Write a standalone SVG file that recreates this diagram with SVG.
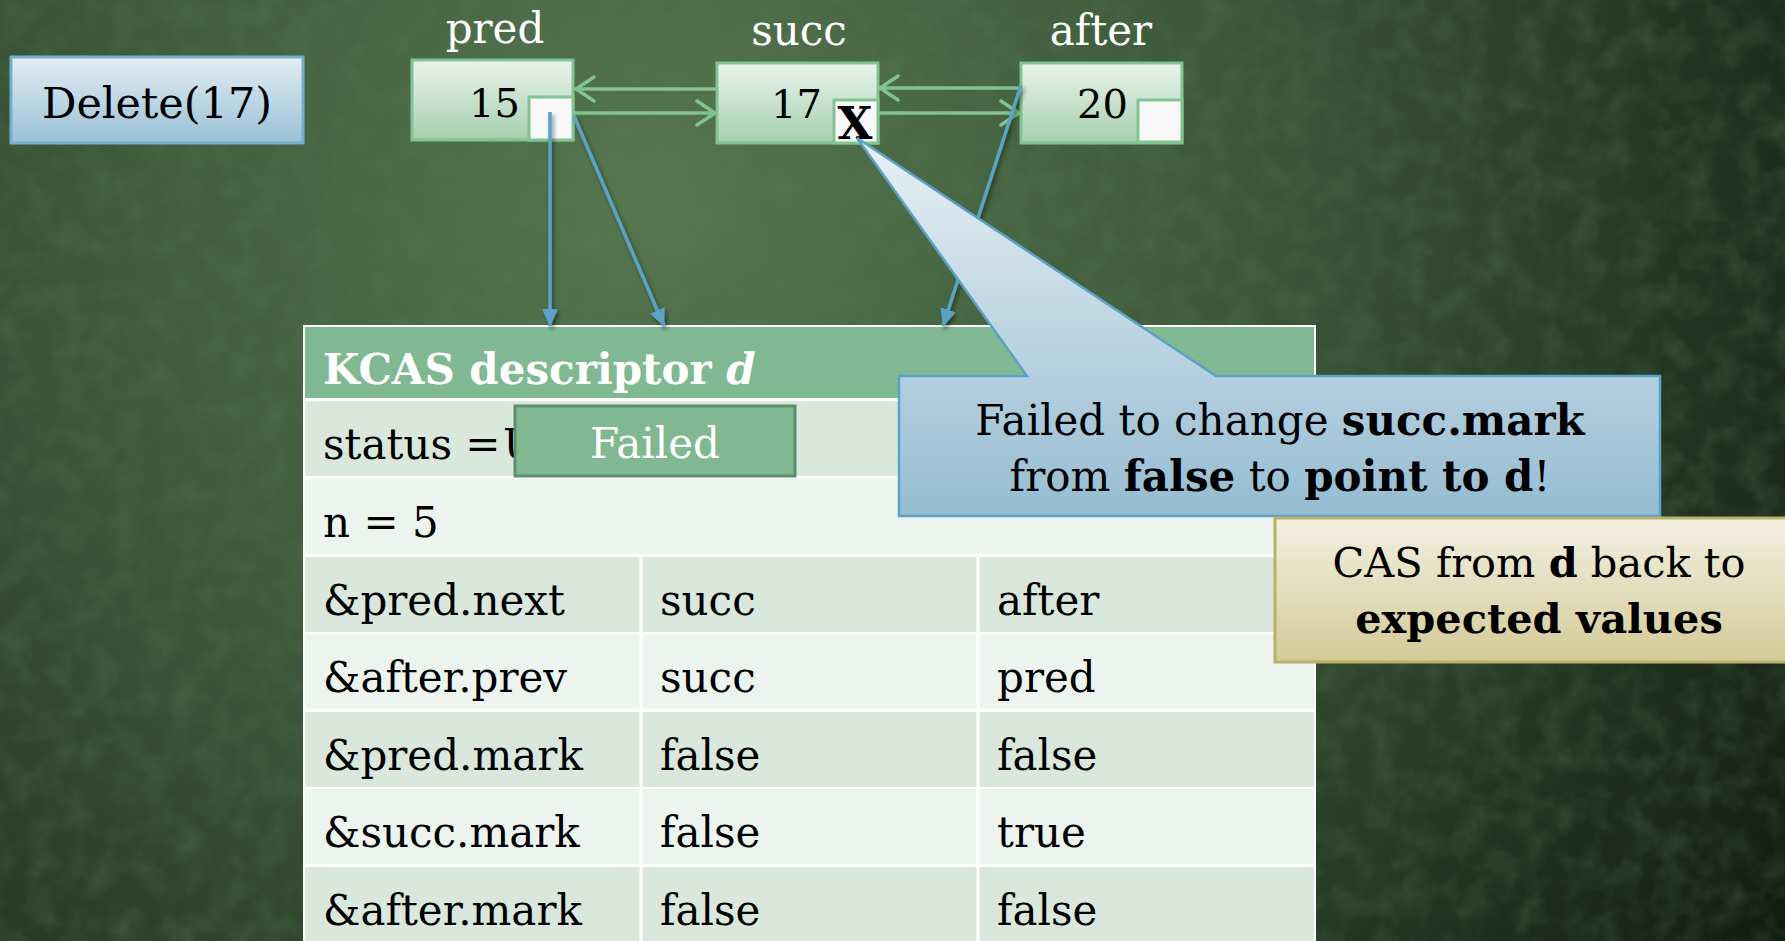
<svg xmlns="http://www.w3.org/2000/svg" width="1785" height="941" viewBox="0 0 1785 941">
<defs>
<radialGradient id="bg" cx="650" cy="200" r="1400" gradientUnits="userSpaceOnUse">
<stop offset="0" stop-color="#56774f"/>
<stop offset="0.45" stop-color="#3a5637"/>
<stop offset="1" stop-color="#0f180f"/>
</radialGradient>
<filter id="tex" x="0" y="0" width="100%" height="100%">
<feTurbulence type="fractalNoise" baseFrequency="0.035" numOctaves="3" seed="4"/>
<feColorMatrix type="matrix" values="0 0 0 0 0.1  0 0 0 0 0.2  0 0 0 0 0.1  0 0 0 -1.2 0.75"/>
</filter>
<linearGradient id="nodeG" x1="0" y1="0" x2="0" y2="1">
<stop offset="0" stop-color="#ebf4ec"/>
<stop offset="1" stop-color="#a4cfad"/>
</linearGradient>
<linearGradient id="delG" x1="0" y1="0" x2="0" y2="1">
<stop offset="0" stop-color="#e3edf3"/>
<stop offset="1" stop-color="#98c0d5"/>
</linearGradient>
<linearGradient id="calG" x1="0" y1="138" x2="0" y2="516" gradientUnits="userSpaceOnUse">
<stop offset="0" stop-color="#e8f0f5"/>
<stop offset="1" stop-color="#95bcd2"/>
</linearGradient>
<linearGradient id="yelG" x1="0" y1="0" x2="0" y2="1">
<stop offset="0" stop-color="#f3f1e3"/>
<stop offset="1" stop-color="#d3ca96"/>
</linearGradient>
<marker id="gArr" viewBox="0 0 22 28" markerWidth="22" markerHeight="28" refX="20" refY="14" orient="auto" markerUnits="userSpaceOnUse">
<path d="M2,2 L20,14 L2,26" fill="none" stroke="#82c293" stroke-width="3.5" stroke-linecap="round"/>
</marker>
<marker id="bArr" viewBox="0 0 18 16" markerWidth="18" markerHeight="16" refX="17" refY="8" orient="auto" markerUnits="userSpaceOnUse">
<path d="M0,0 L18,8 L0,16 Z" fill="#5aa2c6"/>
</marker>
<filter id="shd" x="-20%" y="-20%" width="140%" height="140%">
<feDropShadow dx="2" dy="3" stdDeviation="2" flood-color="#000" flood-opacity="0.45"/>
</filter>
</defs>
<style>
.t{font-family:"DejaVu Serif","Liberation Serif",serif;}
.lbl{font-family:"DejaVu Serif","Liberation Serif",serif;font-size:42px;fill:#ffffff;text-anchor:middle;}
.num{font-family:"DejaVu Serif","Liberation Serif",serif;font-size:40px;fill:#000;text-anchor:end;}
.node{fill:url(#nodeG);stroke:#82c293;stroke-width:3;}
.sq{fill:#f7f8f7;stroke:#82c293;stroke-width:3;}
.cell{font-family:"DejaVu Serif","Liberation Serif",serif;font-size:42px;fill:#000;}
.rowA{fill:#d9e7dd;}
.rowB{fill:#edf4ef;}
.sep{stroke:#ffffff;stroke-width:3;}
.g{stroke:#82c293;stroke-width:3.5;fill:none;marker-end:url(#gArr);}
.b{stroke:#5aa2c6;stroke-width:3.5;fill:none;marker-end:url(#bArr);}
.b2{font-weight:bold;}
</style>
<rect x="0" y="0" width="1785" height="941" fill="url(#bg)"/>
<rect x="0" y="0" width="1785" height="941" filter="url(#tex)" opacity="0.5"/>

<g id="delete">
<rect x="11" y="57" width="292" height="86" fill="url(#delG)" stroke="#74aecb" stroke-width="3"/>
<text class="t" x="157" y="118" font-size="43" text-anchor="middle" fill="#000">Delete(17)</text>
</g>

<g id="pred">
<text class="lbl" x="495" y="43">pred</text>
<rect class="node" x="412" y="60" width="161" height="80"/>
<rect class="sq" x="529" y="97" width="44" height="43"/>
<text class="num" x="520" y="117">15</text>
</g>

<g id="succ">
<text class="lbl" x="799" y="45">succ</text>
<rect class="node" x="717" y="63" width="161" height="80"/>
<rect class="sq" x="834" y="100" width="44" height="43"/>
<text class="num" x="822" y="118">17</text>
<text x="855" y="139" font-family="'DejaVu Serif',serif" font-weight="bold" font-size="45" text-anchor="middle" fill="#000">X</text>
</g>

<g id="after">
<text class="lbl" x="1101" y="45">after</text>
<rect class="node" x="1021" y="63" width="161" height="80"/>
<rect class="sq" x="1138" y="100" width="44" height="42"/>
<text class="num" x="1128" y="118">20</text>
</g>

<g id="kcas">
<rect x="303" y="325" width="1013" height="620" fill="#ffffff"/>
<rect x="305" y="327" width="1009" height="71" fill="#80b991"/>
<rect class="rowA" x="305" y="401" width="1009" height="75"/>
<rect class="rowB" x="305" y="479" width="1009" height="75"/>
<rect class="rowA" x="305" y="557" width="1009" height="75"/>
<rect class="rowB" x="305" y="634" width="1009" height="75"/>
<rect class="rowA" x="305" y="712" width="1009" height="75"/>
<rect class="rowB" x="305" y="789" width="1009" height="75"/>
<rect class="rowA" x="305" y="867" width="1009" height="80"/>
<line class="sep" x1="641" y1="556" x2="641" y2="941"/>
<line class="sep" x1="978" y1="556" x2="978" y2="941"/>
<text class="t" x="323" y="384" font-size="42" font-weight="bold" fill="#ffffff">KCAS descriptor <tspan font-style="italic">d</tspan></text>
<text class="cell" x="323" y="459">status = <tspan x="503">U</tspan></text>
<text class="cell" x="323" y="537">n = 5</text>
<text class="cell" x="323" y="615">&amp;pred.next</text>
<text class="cell" x="660" y="615">succ</text>
<text class="cell" x="997" y="615">after</text>
<text class="cell" x="323" y="692">&amp;after.prev</text>
<text class="cell" x="660" y="692">succ</text>
<text class="cell" x="997" y="692">pred</text>
<text class="cell" x="323" y="770">&amp;pred.mark</text>
<text class="cell" x="660" y="770">false</text>
<text class="cell" x="997" y="770">false</text>
<text class="cell" x="323" y="847">&amp;succ.mark</text>
<text class="cell" x="660" y="847">false</text>
<text class="cell" x="997" y="847">true</text>
<text class="cell" x="323" y="925">&amp;after.mark</text>
<text class="cell" x="660" y="925">false</text>
<text class="cell" x="997" y="925">false</text>
</g>

<g id="failed">
<rect x="515" y="406" width="280" height="70" fill="#80b991" stroke="#5b8e6a" stroke-width="3"/>
<text class="t" x="655" y="458" font-size="42" text-anchor="middle" fill="#ffffff">Failed</text>
</g>

<g id="connectors">
<line class="g" x1="717" y1="89" x2="576" y2="89"/>
<line class="g" x1="574" y1="113" x2="715" y2="113"/>
<line class="g" x1="1021" y1="88" x2="880" y2="88"/>
<line class="g" x1="878" y1="113" x2="1019" y2="113"/>
<g filter="url(#shd)">
<line class="b" x1="550" y1="112" x2="550" y2="326"/>
<line class="b" x1="574" y1="116" x2="664" y2="326"/>
<line class="b" x1="1021" y1="85" x2="943" y2="326"/>
</g>
</g>

<g id="callout">
<path d="M899,376 L1027,376 L857,138 L1216,376 L1660,376 L1660,516 L899,516 Z" fill="url(#calG)" stroke="#5aa2c6" stroke-width="2.5" stroke-linejoin="miter"/>
<text class="t" x="1280" y="435" font-size="42" text-anchor="middle" fill="#000">Failed to change <tspan class="b2">succ.mark</tspan></text>
<text class="t" x="1280" y="491" font-size="42" text-anchor="middle" fill="#000">from <tspan class="b2">false</tspan> to <tspan class="b2">point to d</tspan>!</text>
</g>

<g id="note">
<rect x="1275" y="518" width="520" height="144" fill="url(#yelG)" stroke="#b9b266" stroke-width="3"/>
<text class="t" x="1539" y="577" font-size="41.5" text-anchor="middle" fill="#000">CAS from <tspan class="b2">d</tspan> back to</text>
<text class="t" x="1539" y="633" font-size="41.5" text-anchor="middle" fill="#000" font-weight="bold">expected values</text>
</g>
</svg>
